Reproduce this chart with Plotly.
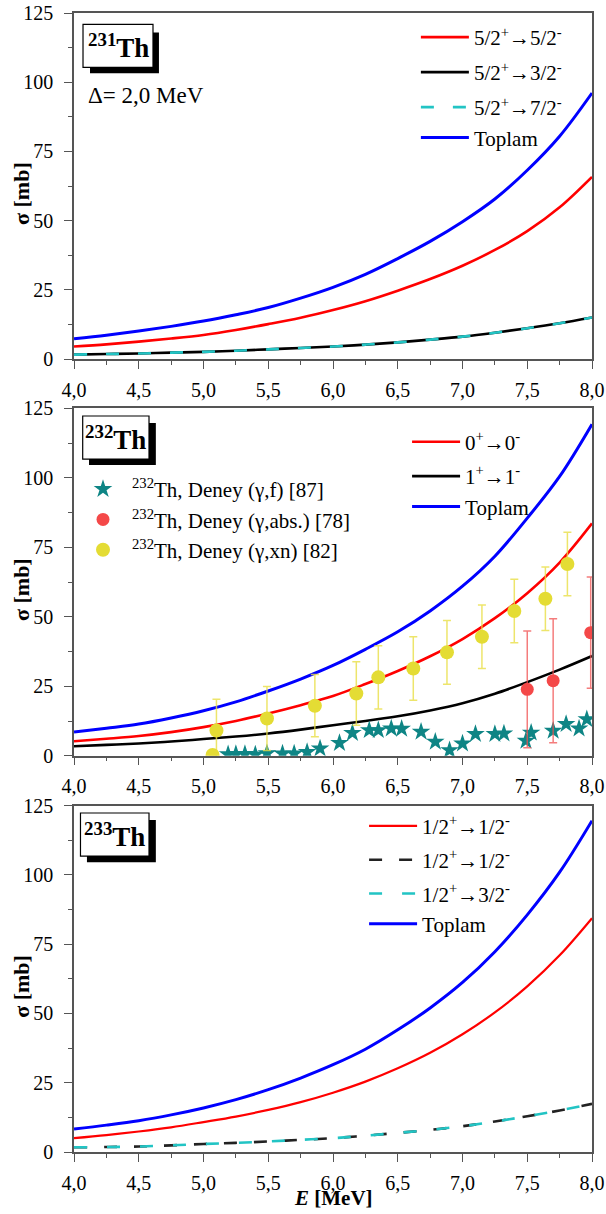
import plotly.graph_objects as go

# Photon energy grid (MeV)
E = [4.0, 4.25, 4.5, 4.75, 5.0, 5.25, 5.5, 5.75, 6.0, 6.25, 6.5, 6.75, 7.0, 7.25, 7.5, 7.75, 8.0]
x_tickvals = [4.0, 4.5, 5.0, 5.5, 6.0, 6.5, 7.0, 7.5, 8.0]
x_ticktext = ["4,0", "4,5", "5,0", "5,5", "6,0", "6,5", "7,0", "7,5", "8,0"]
y_tickvals = [0, 25, 50, 75, 100, 125]

# 231Th cross sections (mb)
th231_52_52 = [4.5, 5.3, 6.3, 7.4, 8.7, 10.5, 12.6, 14.9, 17.7, 20.9, 24.7, 28.9, 33.7, 39.4, 46.2, 54.8, 65.8]
th231_52_32 = [1.6, 1.8, 2.0, 2.3, 2.6, 3.0, 3.5, 4.0, 4.5, 5.2, 6.0, 7.0, 8.1, 9.5, 11.1, 12.9, 15.0]
th231_52_72 = [1.6, 1.8, 2.0, 2.3, 2.6, 3.0, 3.5, 4.0, 4.5, 5.2, 6.0, 7.0, 8.1, 9.5, 11.1, 12.9, 15.0]
th231_total = [7.3, 8.6, 10.1, 11.8, 13.7, 16.0, 18.6, 22.0, 25.9, 30.6, 36.3, 42.5, 49.6, 57.8, 68.2, 80.5, 96.1]

# 232Th cross sections (mb)
th232_00 = [5.2, 6.1, 7.1, 8.5, 10.3, 12.5, 15.2, 18.2, 21.5, 25.8, 30.5, 35.8, 42.0, 49.5, 58.5, 69.5, 83.6]
th232_11 = [3.4, 3.9, 4.4, 5.1, 6.0, 6.9, 8.0, 9.4, 11.0, 12.5, 14.2, 16.3, 18.9, 22.3, 26.5, 31.0, 35.9]
th232_total = [8.5, 9.9, 11.4, 13.6, 16.2, 19.4, 23.3, 27.6, 32.5, 38.3, 44.6, 52.1, 61.0, 71.8, 85.5, 100.5, 119.3]

# 232Th experimental data
gf_E = [5.19, 5.25, 5.32, 5.40, 5.49, 5.61, 5.70, 5.80, 5.90, 6.05, 6.15, 6.28, 6.35, 6.45, 6.53,
        6.68, 6.79, 6.90, 7.00, 7.10, 7.25, 7.32, 7.49, 7.53, 7.70, 7.80, 7.90, 7.96]
gf_sigma = [0.5, 0.6, 0.6, 0.4, 0.9, 0.8, 0.8, 1.3, 2.6, 4.6, 8.2, 9.2, 9.2, 9.8, 9.7,
            8.6, 5.0, 2.0, 4.4, 7.8, 7.8, 8.0, 5.4, 8.3, 9.0, 11.4, 9.8, 13.1]

abs_E = [7.50, 7.70, 7.99]
abs_sigma = [23.9, 27.0, 44.3]
abs_err = [21.0, 22.3, 20.0]

xn_E = [5.07, 5.10, 5.49, 5.86, 6.18, 6.35, 6.62, 6.88, 7.15, 7.40, 7.64, 7.81]
xn_sigma = [0.3, 9.1, 13.4, 18.0, 22.4, 28.2, 31.4, 37.2, 42.8, 52.1, 56.5, 69.0]
xn_err = [0.0, 11.2, 11.5, 11.2, 11.4, 11.4, 11.4, 11.5, 11.4, 11.4, 11.4, 11.4]

# 233Th cross sections (mb)
th233_12_12 = [5.0, 6.1, 7.4, 8.9, 10.8, 12.8, 15.2, 18.0, 21.4, 25.4, 30.2, 35.8, 42.5, 50.4, 59.8, 71.0, 84.4]
th233_12_12b = [1.7, 1.8, 2.0, 2.4, 2.9, 3.3, 3.8, 4.4, 5.0, 5.9, 6.9, 8.0, 9.3, 11.0, 12.9, 15.0, 17.4]
th233_12_32 = [1.7, 1.8, 2.0, 2.4, 2.9, 3.3, 3.8, 4.4, 5.0, 5.9, 6.9, 8.0, 9.3, 11.0, 12.9, 15.0, 17.4]
th233_total = [8.3, 9.7, 11.3, 13.4, 15.9, 18.9, 22.5, 26.7, 31.5, 37.1, 44.1, 52.0, 61.2, 72.3, 85.6, 101.0, 119.6]

FONT = "Liberation Serif"
RED = "#ff0000"
BLUE = "#0000ff"
BLACK = "#000000"
CYAN = "#22c4c4"
TEAL = "#0e8585"
ABS_RED = "#f44848"
XN_YEL = "#e4dc34"

fig = go.Figure()


def curve(x, y, name, color, xa, ya, legend, group, width=2.6, dash=None):
    fig.add_trace(go.Scatter(
        x=x, y=y, name=name, mode="lines", line_shape="spline",
        line=dict(color=color, width=width, dash=dash),
        xaxis=xa, yaxis=ya, legend=legend, legendgroup=group,
    ))


# Panel 1: 231Th
curve(E, th231_52_52, "5/2<sup>+</sup>→5/2<sup>-</sup>", RED, "x", "y", "legend", "a")
curve(E, th231_52_32, "5/2<sup>+</sup>→3/2<sup>-</sup>", BLACK, "x", "y", "legend", "b")
curve(E, th231_52_72, "5/2<sup>+</sup>→7/2<sup>-</sup>", CYAN, "x", "y", "legend", "c", dash="13px,19px")
curve(E, th231_total, "Toplam", BLUE, "x", "y", "legend", "c", width=3)

# Panel 2: 232Th
curve(E, th232_00, "0<sup>+</sup>→0<sup>-</sup>", RED, "x2", "y2", "legend2", "a")
curve(E, th232_11, "1<sup>+</sup>→1<sup>-</sup>", BLACK, "x2", "y2", "legend2", "b")
curve(E, th232_total, "Toplam", BLUE, "x2", "y2", "legend2", "b", width=3)

fig.add_trace(go.Scatter(
    x=gf_E, y=gf_sigma, mode="markers", name="<sup>232</sup>Th, Deney (γ,f) [87]",
    marker=dict(symbol="star", size=14, color=TEAL, line=dict(width=0)),
    xaxis="x2", yaxis="y2", legend="legend3",
))
fig.add_trace(go.Scatter(
    x=abs_E, y=abs_sigma, mode="markers", name="<sup>232</sup>Th, Deney (γ,abs.) [78]",
    marker=dict(symbol="circle", size=13, color=ABS_RED, line=dict(width=0)),
    error_y=dict(type="data", array=abs_err, color="rgba(240,80,80,0.75)", thickness=1.5, width=4),
    xaxis="x2", yaxis="y2", legend="legend3",
))
fig.add_trace(go.Scatter(
    x=xn_E, y=xn_sigma, mode="markers", name="<sup>232</sup>Th, Deney (γ,xn) [82]",
    marker=dict(symbol="circle", size=14, color=XN_YEL, line=dict(width=0)),
    error_y=dict(type="data", array=xn_err, color="rgba(232,222,70,0.8)", thickness=1.5, width=4),
    xaxis="x2", yaxis="y2", legend="legend3",
))

# Panel 3: 233Th
curve(E, th233_12_12, "1/2<sup>+</sup>→1/2<sup>-</sup>", RED, "x3", "y3", "legend4", "a", width=2.2)
curve(E, th233_12_12b, "1/2<sup>+</sup>→1/2<sup>-</sup>", "#222222", "x3", "y3", "legend4", "b", dash="13px,17px")
curve(E, th233_12_32, "1/2<sup>+</sup>→3/2<sup>-</sup>", CYAN, "x3", "y3", "legend4", "c", dash="13px,20px")
curve(E, th233_total, "Toplam", BLUE, "x3", "y3", "legend4", "c", width=3)

AXIS_COLOR = "#555555"


def xaxis(domain_anchor):
    return dict(
        range=[4, 8], tickvals=x_tickvals, ticktext=x_ticktext, automargin=False,
        ticks="outside", ticklen=8, tickwidth=1.3, tickcolor=AXIS_COLOR,
        minor=dict(dtick=0.25, tick0=4, ticks="outside", ticklen=4, tickwidth=1.3, tickcolor=AXIS_COLOR),
        showline=True, linecolor=AXIS_COLOR, linewidth=1.5, mirror=True,
        showgrid=False, zeroline=False, anchor=domain_anchor,
        tickfont=dict(family=FONT, size=20, color="#000"), ticklabelstandoff=4,
    )


def yaxis(domain, anchor):
    return dict(
        range=[0, 125], tickvals=y_tickvals, domain=domain, anchor=anchor, automargin=False,
        ticks="outside", ticklen=8, tickwidth=1.3, tickcolor=AXIS_COLOR,
        minor=dict(dtick=12.5, tick0=0, ticks="outside", ticklen=4, tickwidth=1.3, tickcolor=AXIS_COLOR),
        showline=True, linecolor=AXIS_COLOR, linewidth=1.5, mirror=True,
        showgrid=False, zeroline=False,
        tickfont=dict(family=FONT, size=20, color="#000"), ticklabelstandoff=7,
    )


def legend(x, y, gap=0, size=21):
    return dict(
        x=x, y=y, xanchor="left", yanchor="top", bgcolor="rgba(0,0,0,0)",
        borderwidth=0, itemwidth=48, traceorder="grouped", tracegroupgap=gap,
        font=dict(family=FONT, size=size, color="#000"), itemclick=False,
    )


fig.update_layout(
    width=606, height=1214,
    margin=dict(l=74, r=14, t=13, b=62, autoexpand=False),
    paper_bgcolor="white", plot_bgcolor="white",
    font=dict(family=FONT, color="#000"),
    showlegend=True,
    xaxis=xaxis("y"),
    yaxis=yaxis([0.6962, 1.0], "x"),
    xaxis2=xaxis("y2"),
    yaxis2=yaxis([0.3479, 0.6529], "x2"),
    xaxis3=xaxis("y3"),
    yaxis3=yaxis([0.0, 0.3040], "x3"),
    legend=legend(0.660, 0.9965, gap=4.7),
    legend2=legend(0.643, 0.6412, gap=4),
    legend3=legend(0.0, 0.5997),
    legend4=legend(0.560, 0.3040, gap=3.5),
)

# Rotated y-axis titles placed beside each panel
for ya in ["y", "y2", "y3"]:
    fig.add_annotation(xref="paper", yref=f"{ya} domain", x=-0.1004, y=0.48,
                       text="<b>σ [mb]</b>", textangle=-90, showarrow=False,
                       xanchor="center", yanchor="middle",
                       font=dict(family=FONT, size=22, color="#000"))

# Shared x-axis title under the bottom panel
fig.add_annotation(xref="paper", yref="paper", x=0.5, y=-0.0405,
                   text="<b><i>E</i> [MeV]</b>", showarrow=False,
                   xanchor="center", yanchor="middle",
                   font=dict(family=FONT, size=21, color="#000"))

# Nuclide label boxes with drop shadow
labels = [
    ("x", "y", "<b><sup>231</sup>Th</b>", (0.0174, 0.1525, 0.843, 0.967), (0.0309, 0.164, 0.826, 0.944)),
    ("x2", "y2", "<b><sup>232</sup>Th</b>", (0.0168, 0.1448, 0.854, 0.978), (0.029, 0.158, 0.837, 0.958)),
    ("x3", "y3", "<b><sup>233</sup>Th</b>", (0.0125, 0.1448, 0.8545, 0.979), (0.025, 0.158, 0.837, 0.9587)),
]
for xa, ya, text, box, shadow in labels:
    xr, yr = f"{xa} domain", f"{ya} domain"
    fig.add_shape(type="rect", xref=xr, yref=yr, x0=shadow[0], x1=shadow[1], y0=shadow[2], y1=shadow[3],
                  fillcolor="#000", line=dict(width=0))
    fig.add_shape(type="rect", xref=xr, yref=yr, x0=box[0], x1=box[1], y0=box[2], y1=box[3],
                  fillcolor="#fff", line=dict(color="#000", width=1.2))
    fig.add_annotation(xref=xr, yref=yr, x=(box[0] + box[1]) / 2, y=(box[2] + box[3]) / 2,
                       text=text, showarrow=False, xanchor="center", yanchor="middle",
                       font=dict(family=FONT, size=27, color="#000"))

fig.add_annotation(xref="x domain", yref="y domain", x=0.023, y=0.762, text="Δ= 2,0 MeV",
                   showarrow=False, xanchor="left", yanchor="middle",
                   font=dict(family=FONT, size=23, color="#000"))

fig.write_html("out.html")
